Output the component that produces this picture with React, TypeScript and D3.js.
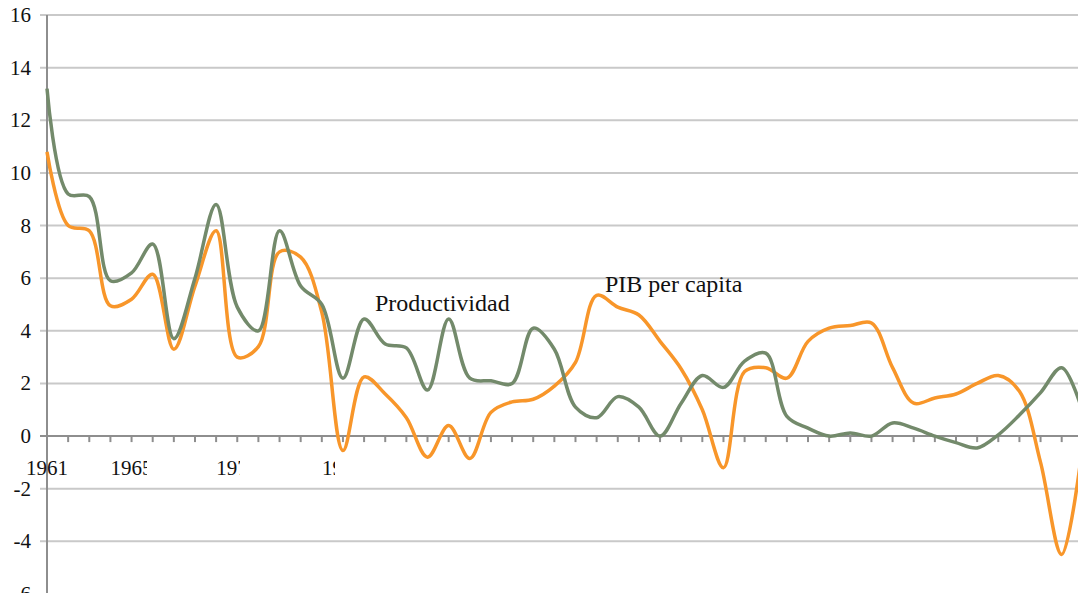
import React from "react";
import * as d3 from "d3";

// ---- Data ----
const years: number[] = d3.range(1961, 2011);
const productividad: number[] = [
  13.2, 9.2, 9.1, 5.9, 6.2, 7.3, 3.7, 6.0, 8.8, 4.9,
  4.0, 7.8, 5.7, 5.0, 2.2, 4.45, 3.5, 3.35, 1.75, 4.45,
  2.2, 2.1, 2.0, 4.1, 3.3, 1.1, 0.7, 1.5, 1.1, 0.0,
  1.25, 2.3, 1.85, 2.85, 3.15, 0.75, 0.3, 0.0, 0.12, 0.0,
  0.5, 0.3, 0.0, -0.25, -0.45, 0.05, 0.8, 1.65, 2.6, 0.9,
];
const pibPerCapita: number[] = [
  10.8, 8.0, 7.8, 4.95, 5.2, 6.15, 3.3, 5.7, 7.8, 3.0,
  3.4, 7.0, 6.8, 4.7, -0.55, 2.25, 1.6, 0.7, -0.8, 0.4,
  -0.85, 0.9, 1.3, 1.4, 1.9, 2.8, 5.35, 4.9, 4.6, 3.6,
  2.55, 1.0, -1.2, 2.45, 2.6, 2.2, 3.6, 4.1, 4.2, 4.3,
  2.6, 1.25, 1.45, 1.6, 2.0, 2.3, 1.7, -1.0, -4.5, -0.3,
];
const yTicks: number[] = [-6, -4, -2, 0, 2, 4, 6, 8, 10, 12, 14, 16];
const xLabelYears: number[] = [1961, 1965, 1970, 1975];
const seriesNames: string[] = ["Productividad", "PIB per capita"];

// ---- Layout ----
const W = 1078;
const H = 593;
const xLabelClipRight: (number | null)[] = [null, 147, 240, 335];

export default function App() {
  const x = d3.scaleLinear().domain([1961, 2009]).range([47, 1061.7]);
  const y = d3.scaleLinear().domain([-6, 16]).range([594, 15]);

  const line = d3
    .line<number>()
    .x((_, i) => x(years[i]))
    .y((d) => y(d))
    .curve(d3.curveCatmullRom.alpha(0.5));

  const green = "#738a6b";
  const orange = "#f8962a";
  const grid = "#c9c9c9";
  const axis = "#8e8e8e";
  const font = "'Liberation Serif', 'Times New Roman', serif";

  return (
    <svg
      width={W}
      height={H}
      style={{ position: "absolute", left: 0, top: 0, background: "#fff" }}
    >
      <defs>
        {xLabelClipRight.map((r, i) =>
          r == null ? null : (
            <clipPath id={`xclip${i}`} key={i}>
              <rect x={0} y={0} width={r} height={H} />
            </clipPath>
          )
        )}
      </defs>
      {/* gridlines */}
      {yTicks
        .filter((t) => t !== 0)
        .map((t) => (
          <line
            key={t}
            x1={40}
            x2={W}
            y1={y(t)}
            y2={y(t)}
            stroke={grid}
            strokeWidth={2}
          />
        ))}
      {/* y labels */}
      {yTicks.map((t) => (
        <text
          key={t}
          x={31}
          y={y(t) + 7}
          textAnchor="end"
          fontFamily={font}
          fontSize={21}
          fill="#111"
        >
          {t}
        </text>
      ))}
      {/* y axis */}
      <line x1={47} x2={47} y1={15} y2={H} stroke={axis} strokeWidth={2} />
      {/* x axis at zero */}
      <line x1={40} x2={W} y1={y(0)} y2={y(0)} stroke={axis} strokeWidth={2} />
      {years.map((yr) => (
        <line
          key={yr}
          x1={x(yr)}
          x2={x(yr)}
          y1={y(0)}
          y2={y(0) + 6}
          stroke={axis}
          strokeWidth={2}
        />
      ))}
      {/* x labels */}
      {xLabelYears.map((yr, i) => (
        <text
          key={yr}
          x={x(yr)}
          y={475}
          textAnchor="middle"
          fontFamily={font}
          fontSize={21}
          fill="#111"
          clipPath={xLabelClipRight[i] == null ? undefined : `url(#xclip${i})`}
        >
          {yr}
        </text>
      ))}
      {/* series */}
      <path
        d={line(pibPerCapita) ?? ""}
        fill="none"
        stroke={orange}
        strokeWidth={3.5}
        strokeLinejoin="round"
      />
      <path
        d={line(productividad) ?? ""}
        fill="none"
        stroke={green}
        strokeWidth={3.5}
        strokeLinejoin="round"
      />
      {/* series labels */}
      <text x={375} y={311} fontFamily={font} fontSize={24} fill="#111">
        {seriesNames[0]}
      </text>
      <text x={605} y={292} fontFamily={font} fontSize={24} fill="#111">
        {seriesNames[1]}
      </text>
    </svg>
  );
}
